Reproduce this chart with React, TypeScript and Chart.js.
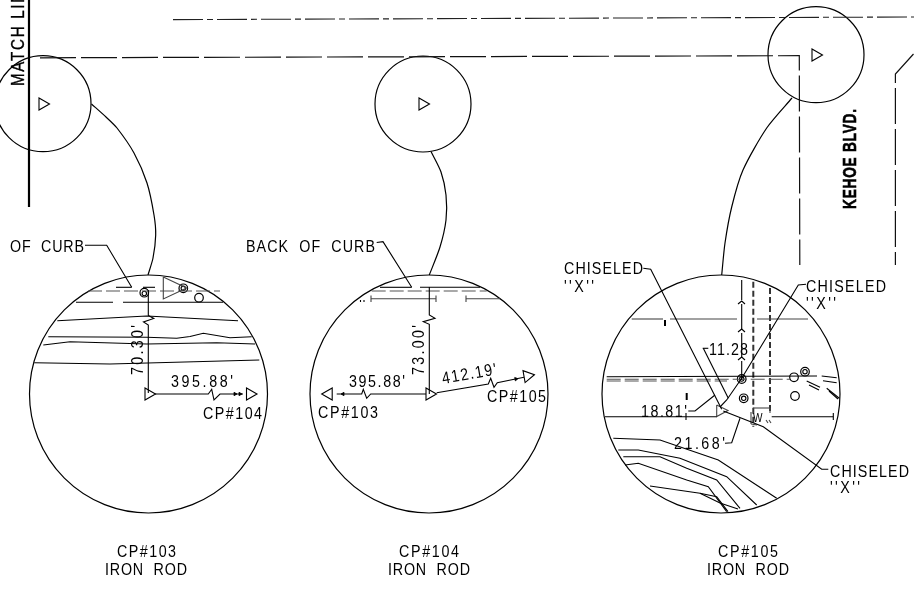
import React, { useEffect, useRef } from "react";
import { Chart, registerables } from "chart.js";

Chart.register(...registerables);

type P = number[];
// ---- drawing data, in sheet units ----
const topCircles: P[] = [[43, 103.7], [423, 104], [816, 54.7]];
const detailCircles: P[] = [[148.5, 394], [429, 394], [721, 394]];
const openMarkers: P[] = [[42.5, 104], [422.5, 104], [815.5, 55], [148.5, 394], [250, 394], [328.7, 394], [429.5, 394], [527.5, 376]];
const markerTurn: number[] = [90, 90, 90, 90, 90, -90, 90, 80];
const tinyArrows: P[] = [[235, 394], [240, 394], [343, 394], [516, 379]];
const tinyTurn: number[] = [90, 90, -90, 80];
const monuments: P[] = [[183.3, 288.3], [199, 297.7], [144.3, 292.7], [805, 371.7], [794, 377.3], [795, 396], [743.7, 398.3], [741.7, 379]];
const monumentCores: P[] = [[183.3, 288.3], [144.3, 293.5], [805, 371.7], [743.7, 398.3], [741.7, 379]];

const matchLine: P[] = [[29, 0], [29, 207]];
const longDash: P[][] = [
  [[40, 57.8], [799.3, 55.7], [799.8, 265]],
  [[913.5, 54], [895.4, 74], [895.4, 265]],
];
const dashDot: P[][] = [[[173, 19.6], [914, 17]]];
const arcs: P[][] = [
  [[91.5, 104], [106, 117], [117, 128], [134, 153], [147, 183], [154, 215], [155.7, 235], [153, 258], [148, 275]],
  [[431, 151.5], [441, 172], [446, 195], [446, 220], [440, 247], [429.3, 275]],
  [[792, 98], [766.7, 128], [743, 170], [731.7, 207], [725, 243], [721.7, 275]],
];
const solidLeft: P[][] = [
  [[85, 245.3], [106.7, 245.3], [131.7, 287.3]],
  [[116, 287.3], [131.7, 287.3]], [[143, 287.3], [155, 287.3]],
  [[76, 302.3], [113, 302.3]], [[123, 302.3], [223, 302.3]],
  [[57.3, 320.7], [146.7, 316], [238, 320.7]],
  [[48.3, 336.7], [146.7, 337.3], [176.7, 338.3], [190, 336.5], [203.3, 333.3], [230, 337.7], [251.7, 336.7]],
  [[43.3, 345], [70, 341.7], [146.7, 344], [216.7, 342.7], [255, 344]],
  [[34.3, 362.7], [110, 364], [259.3, 360]],
  [[148.3, 290], [148.3, 315.5], [153.8, 318.5], [143.5, 322], [148.3, 325], [148.3, 393]],
  [[155, 394], [208.3, 394], [211.7, 389.3], [214, 400], [220, 394], [243, 394]],
];
const solidMiddle: P[][] = [
  [[376.7, 242.5], [383, 241.7], [411.7, 287.3]],
  [[380, 287.3], [411.7, 287.3]], [[420, 287.3], [480, 287.3]],
  [[429.3, 287], [429.3, 315], [435, 318.3], [423.3, 321.7], [429.3, 324.3], [429.3, 394]],
  [[336.7, 394], [361.7, 394], [363.3, 389.3], [366.7, 398.3], [370.7, 394], [426, 394]],
  [[436.7, 392.7], [488.3, 384], [490.7, 378.3], [494, 387.3], [497.3, 382.7], [524, 377.3]],
  [[360.5, 300], [360.5, 302]], [[364, 300], [364, 302]],
];
const solidRight: P[][] = [
  [[643.3, 268.3], [650.7, 269.3], [721.7, 409.3]],
  [[806, 284.3], [798.3, 285], [741.7, 378.3], [726.7, 400], [720, 407]],
  [[828.3, 469.3], [821.7, 469.3], [763.3, 426.7], [723.3, 411]],
  [[741.7, 280], [741.7, 300]], [[741.7, 304], [741.7, 329]], [[741.7, 333], [741.7, 357]], [[741.7, 361], [741.7, 380]],
  [[738, 304], [741.7, 301], [745, 304]], [[738, 332], [741.7, 329], [745, 332]], [[738, 360], [741.7, 357], [745, 360]],
  [[606.7, 376.7], [817, 376]],
  [[702.7, 348.3], [708.3, 348.3]], [[703.3, 348.3], [728.3, 398.3]],
  [[688.3, 411], [695, 411], [715, 395]],
  [[725, 443.3], [731.7, 442.7], [740, 418.3]],
  [[605, 416.7], [716.7, 416.7]], [[771.7, 416.7], [833.3, 416.7]],
  [[686, 413], [686, 420]], [[833.3, 413], [833.3, 420]],
  [[806.7, 381], [820, 387.3]], [[809, 385], [819, 390]],
  [[821.7, 376], [836.7, 377.7]], [[823, 380.7], [836.7, 382.7]],
  [[826.7, 388.3], [839.3, 398.3]], [[829, 391], [838, 399]],
  [[613.3, 438.3], [660, 440], [718.3, 460], [776.7, 498.3]],
  [[618.3, 450], [638.3, 450], [680, 458.3], [726.7, 476.7], [756.7, 505]],
  [[623.3, 456.7], [660, 456.7], [686.7, 468.3], [716.7, 480], [740, 508.3]],
  [[625, 465], [638.3, 463.3], [686.7, 480], [708.3, 486.7], [726.7, 511.7]],
  [[650, 486], [700, 493.3], [716.7, 496.7], [728, 511.7]],
  [[700, 493.3], [720, 503], [738, 509]],
];
const grayThin: P[][] = [
  [[163.3, 277], [186.7, 288], [163.3, 299], [163.3, 277]],
  [[371, 298.7], [436, 298.7]], [[466, 298.7], [500, 298.7]],
  [[371, 295.5], [371, 302]], [[436, 295.5], [436, 302]], [[466, 295.5], [466, 302]],
  [[631.7, 319], [663, 319]], [[670, 319], [737, 319]], [[757, 319], [808, 319]],
  [[716.7, 405], [716.7, 416.5], [728, 410.5], [716.7, 405]],
  [[753, 408], [770, 408]], [[770, 408], [770, 413]],
  [[751, 412], [751, 424]], [[751, 424], [757, 425]],
  [[766, 420], [768, 423]], [[769, 420], [771, 423]],
];
const grayDash: P[][] = [
  [[88, 291], [220, 291]],
  [[371.7, 291], [486.7, 291]],
  [[606.7, 379.3], [790, 379.3]],
  [[606.7, 381], [727, 381]],
];
const thickDash: P[][] = [
  [[753.3, 281.7], [753.3, 426.7]],
  [[770, 288], [770, 413]],
];
const heavyTicks: P[][] = [
  [[665, 320], [665, 326]],
  [[686.7, 393], [686.7, 400]],
];

const labels: string[] = [
  "MATCH LINE", "KEHOE BLVD.", "OF  CURB", "BACK  OF  CURB", "70.30'", "395.88'", "CP#104",
  "395.88'", "73.00'", "412.19'", "CP#105", "CP#103",
  "CHISELED", "''X''", "CHISELED", "''X''", "CHISELED", "''X''", "11.28", "18.81'", "21.68'", "W",
  "CP#103", "IRON  ROD", "CP#104", "IRON  ROD", "CP#105", "IRON  ROD",
];
const labelAt: P[] = [
  [24, 86], [856, 209], [10, 251.7], [246, 251.7], [143, 375], [171, 386.7], [203, 419.3],
  [349, 387.3], [424, 375], [443, 384], [487, 402.3], [318, 418.3],
  [564, 274], [564, 291.7], [806, 291.7], [806, 309], [830, 476.7], [830, 493.3], [709, 355], [641, 416.7], [674, 449.3], [753, 422],
  [117, 557.3], [105, 575], [399, 557.3], [388, 575], [718, 557.3], [707, 575],
];
const labelLength: number[] = [
  106, 100, 74, 129, 50, 62, 59,
  56, 50, 55, 59, 60,
  79, 30, 80, 30, 79, 30, 39, 46, 51, 10,
  59, 82, 60, 82, 60, 82,
];
const labelTurn: number[] = [
  -90, -90, 0, 0, -90, 0, 0,
  0, -90, -10, 0, 0,
  0, 0, 0, 0, 0, 0, 0, 0, 0, 0,
  0, 0, 0, 0, 0, 0,
];
const labelSize: number[] = [
  18, 19, 17, 17, 17, 17, 17,
  17, 17, 17, 17, 17,
  17, 17, 17, 17, 17, 17, 17, 17, 17, 12,
  17, 17, 17, 17, 17, 17,
];

const toXY = (p: P) => ({ x: p[0], y: p[1] });
const line = (pts: P[], color: string, width: number, dash: number[] = [], tension = 0) => ({
  type: "scatter" as const,
  data: pts.map(toXY),
  showLine: true,
  borderColor: color,
  borderWidth: width,
  borderDash: dash,
  tension,
  pointRadius: 0,
  borderCapStyle: "butt" as const,
  borderJoinStyle: "miter" as const,
  fill: false,
});
const points = (pts: P[], radius: number, style: string, width: number, rotation: number[] | number = 0, fillColor = "rgba(0,0,0,0)") => ({
  type: "scatter" as const,
  data: pts.map(toXY),
  showLine: false,
  pointStyle: style,
  pointRadius: radius,
  pointBorderColor: "#000",
  pointBackgroundColor: fillColor,
  pointBorderWidth: width,
  pointRotation: rotation,
});

const labelPlugin = {
  id: "labels",
  afterDatasetsDraw(chart: any) {
    const { ctx, scales } = chart;
    labels.forEach((text, i) => {
      const squeeze = i === 1 ? 0.72 : 0.84;
      ctx.save();
      ctx.translate(scales.x.getPixelForValue(labelAt[i][0]), scales.y.getPixelForValue(labelAt[i][1]));
      ctx.rotate((labelTurn[i] * Math.PI) / 180);
      ctx.scale(squeeze, 1);
      ctx.font = `${i === 1 ? "bold " : ""}${labelSize[i]}px "Liberation Sans"`;
      ctx.fillStyle = "#000";
      ctx.textBaseline = "alphabetic";
      ctx.textAlign = "left";
      (ctx as any).letterSpacing = "0px";
      const natural = ctx.measureText(text).width;
      (ctx as any).letterSpacing = `${(labelLength[i] / squeeze - natural) / Math.max(1, text.length - 1)}px`;
      ctx.fillText(text, 0, 0);
      if (i <= 1) {
        ctx.strokeStyle = "#000";
        ctx.lineWidth = i === 1 ? 0.6 : 0.35;
        ctx.strokeText(text, 0, 0);
      }
      ctx.restore();
    });
  },
};

export default function App() {
  const ref = useRef<HTMLCanvasElement>(null);
  useEffect(() => {
    const datasets: any[] = [
      line(matchLine, "#000", 2.2),
      ...longDash.map((p) => line(p, "#111", 1.2, [36, 5])),
      ...dashDot.map((p) => line(p, "#222", 1.1, [30, 4, 6, 4])),
      ...arcs.map((p) => line(p, "#000", 1.2, [], 0.25)),
      ...solidLeft.map((p) => line(p, "#000", 1.1)),
      ...solidMiddle.map((p) => line(p, "#000", 1.1)),
      ...solidRight.map((p) => line(p, "#000", 1.1)),
      ...grayThin.map((p) => line(p, "#444", 1.1)),
      ...grayDash.map((p) => line(p, "#555", 1.1, [14, 4])),
      ...thickDash.map((p) => line(p, "#333", 2, [6, 3])),
      ...heavyTicks.map((p) => line(p, "#000", 2)),
      points(topCircles, 48, "circle", 1.2),
      points(detailCircles, 119, "circle", 1.2),
      points(openMarkers, 7, "triangle", 1.1, markerTurn),
      points(tinyArrows, 2, "triangle", 0.8, tinyTurn, "#000"),
      points(monuments, 4.3, "circle", 1.2),
      points(monumentCores, 2.2, "circle", 1.1),
    ];
    const chart = new Chart(ref.current!, {
      type: "scatter",
      data: { datasets },
      plugins: [labelPlugin],
      options: {
        animation: false,
        responsive: false,
        devicePixelRatio: 1,
        layout: { padding: 0, autoPadding: false },
        clip: false,
        events: [],
        plugins: { legend: { display: false }, tooltip: { enabled: false }, title: { display: false } },
        scales: {
          x: { type: "linear", display: false, min: 0, max: 914 },
          y: { type: "linear", display: false, min: 0, max: 592, reverse: true },
        },
      },
    } as any);
    return () => chart.destroy();
  }, []);
  return (
    <div style={{ position: "fixed", left: 0, top: 0, width: 914, height: 592, background: "#fff", overflow: "hidden" }}>
      <canvas ref={ref} width={914} height={592} style={{ display: "block" }} />
    </div>
  );
}
